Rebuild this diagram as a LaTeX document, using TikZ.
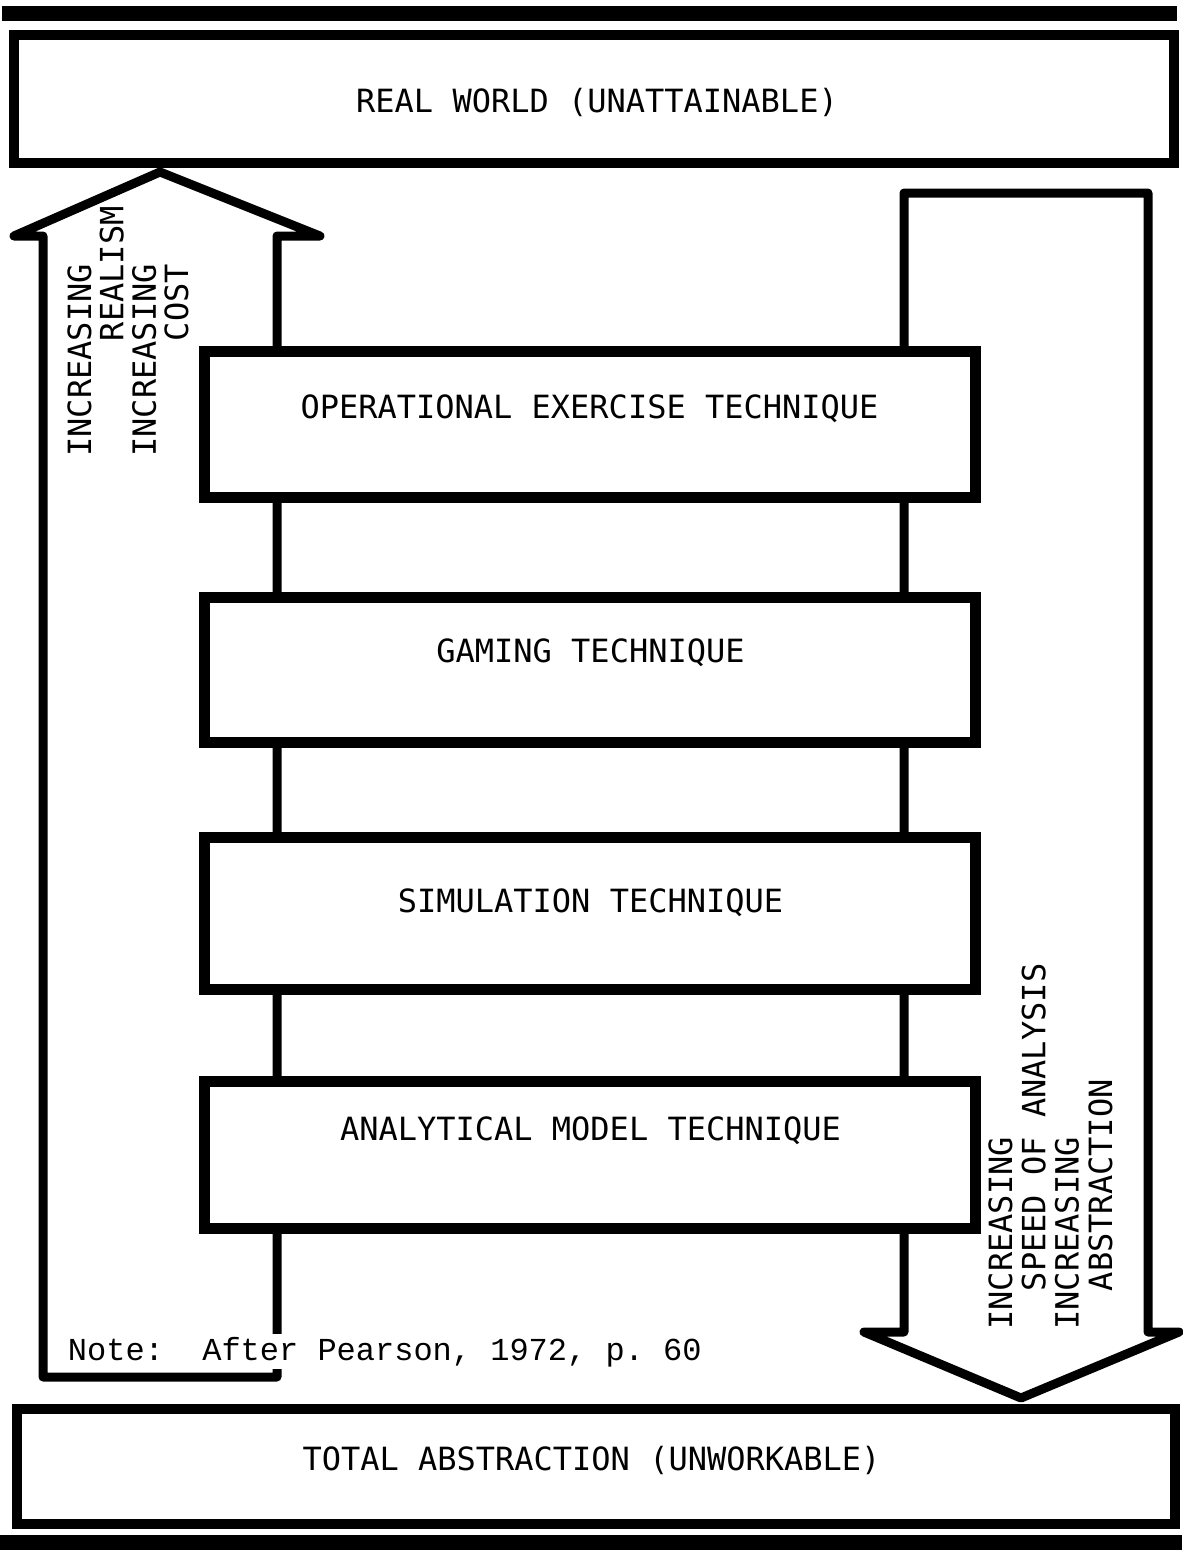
\documentclass[tikz,border=0pt]{standalone}
\usepackage{fontspec}
\setmainfont{DejaVu Sans Mono}
\newfontfamily\notefont{Liberation Mono}
\frenchspacing
\begin{document}
\begin{tikzpicture}[x=0.75pt,y=-0.75pt,
  bar/.style={fill=black},
  outline/.style={draw=black, line width=6.75pt, line join=round},
  endbox/.style={draw=black, fill=white, line width=7.5pt, inner sep=0pt},
  techbox/.style={draw=black, fill=white, line width=8.25pt, inner sep=0pt,
    minimum width=578.25pt},
  boxtext/.style={font=\fontsize{24pt}{25pt}\selectfont, inner sep=0pt, anchor=base},
  sidetext/.style={font=\fontsize{24pt}{#1}\selectfont, inner sep=0pt,
    align=left, rotate=90, anchor=north west},
  notetext/.style={font=\notefont\fontsize{24pt}{25pt}\selectfont, fill=white,
    inner sep=2pt, anchor=base west}]
\useasboundingbox (0,0) rectangle (1182,1556);

% heavy rules at the top and bottom of the page
\fill[bar] (2,6) rectangle (1177,21);
\fill[bar] (0,1535) rectangle (1182,1550);

% the two extremes
\node[endbox, minimum width=870pt, minimum height=96pt] (real) at (594,99) {};
\node[endbox, minimum width=868.5pt, minimum height=86.25pt] (total) at (596,1466.5) {};

% upward block arrow: realism and cost
\draw[outline] (160,172) -- (320,236) -- (277,236) -- (277,1377)
  -- (43,1377) -- (43,236) -- (14,236) -- cycle;

% downward block arrow: speed of analysis and abstraction
\draw[outline] (904,193) -- (1148,193) -- (1148,1332) -- (1179,1332)
  -- (1021,1398) -- (864,1332) -- (904,1332) -- cycle;

% the four techniques, laid over both arrows
\node[techbox, minimum height=109.5pt] (oper) at (589.5,424) {};
\node[techbox, minimum height=108.75pt] (gaming) at (589.5,669.5) {};
\node[techbox, minimum height=114pt] (simul) at (589.5,913) {};
\node[techbox, minimum height=110.25pt] (analyt) at (589.5,1154.5) {};

% box captions
\node[boxtext] (realtxt) at (597,112) {REAL WORLD (UNATTAINABLE)};
\node[boxtext] (opertxt) at (589.5,418) {OPERATIONAL EXERCISE TECHNIQUE};
\node[boxtext] (gamingtxt) at (590.5,662) {GAMING TECHNIQUE};
\node[boxtext] (simultxt) at (590.5,912) {SIMULATION TECHNIQUE};
\node[boxtext] (analyttxt) at (590.5,1140) {ANALYTICAL MODEL TECHNIQUE};
\node[boxtext] (totaltxt) at (591.5,1470) {TOTAL ABSTRACTION (UNWORKABLE)};

% arrow captions, read from bottom to top
\node[sidetext=24.3pt] (uptxt) at (67,457)
  {INCREASING\\\phantom{MMMMMM}REALISM\\INCREASING\\\phantom{MMMMMM}COST};
\node[sidetext=25pt] (downtxt) at (988,1330)
  {INCREASING\\\phantom{MM}SPEED OF ANALYSIS\\INCREASING\\\phantom{MM}ABSTRACTION};

% source note
\node[notetext] (note) at (65,1360) {Note:\ \ After Pearson, 1972, p.~60};
\end{tikzpicture}
\end{document}
